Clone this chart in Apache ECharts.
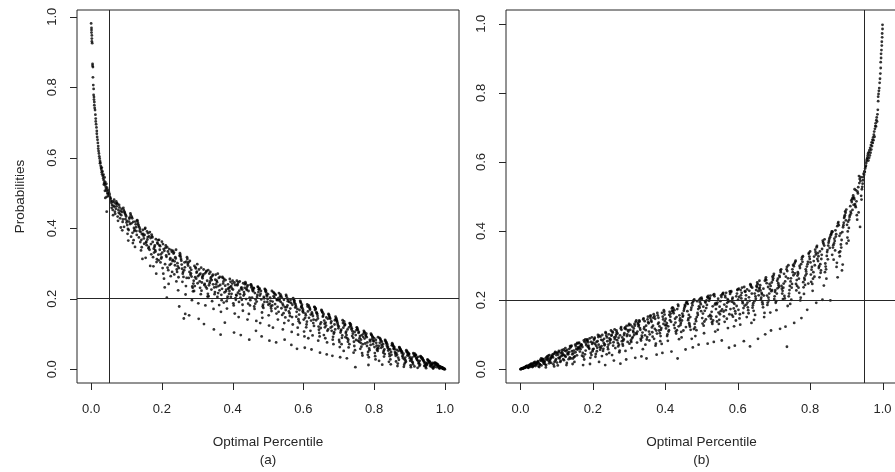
<!DOCTYPE html>
<html>
<head>
<meta charset="utf-8">
<script src="https://cdn.jsdelivr.net/npm/echarts@6/dist/echarts.min.js"></script>
<style>html,body{margin:0;padding:0;background:#fff}#c{width:895px;height:472px}</style>
</head>
<body>
<div id="c"></div>
<script>
const tickValues = [0, 0.2, 0.4, 0.6, 0.8, 1.0];
const refLinesA = [0.05, 0.2];
const refLinesB = [0.95, 0.2];
const xTitle = 'Optimal Percentile';
const yTitle = 'Probabilities';
const panelLabels = ['(a)', '(b)'];

const panelAPoints = [
[.000,.981],[.001,.968],[.001,.962],[.001,.955],[.002,.947],[.002,.938],[.002,.930],[.003,.925],[.004,.866],[.004,.861],[.005,.857],[.005,.828],[.006,.806],[.007,.795],[.007,.778],[.008,.772],[.008,.765],[.009,.758],[.009,.749],[.010,.741],[.011,.735],[.012,.722],[.013,.711],[.013,.703],[.014,.695],[.015,.686],[.016,.676],[.016,.668],[.017,.659],[.018,.651],[.019,.642],[.020,.633],[.020,.626],[.021,.619],[.022,.612],[.023,.604],[.024,.598],[.025,.591],[.025,.584],[.026,.586],[.027,.577],[.028,.571],[.029,.566],[.030,.572],[.030,.559],[.031,.553],[.032,.561],[.033,.548],[.034,.541],[.035,.552],[.036,.536],[.037,.529],[.038,.544],[.039,.524],[.040,.531],[.041,.518],[.042,.511],[.043,.526],[.044,.506],[.045,.515],[.046,.500],[.047,.497],[.048,.509],[.049,.492],[.050,.503],[.036,.524],[.044,.489],[.039,.506],[.044,.447],[.040,.486],
[.063,.463],[.052,.495],[.068,.441],[.056,.478],[.061,.452],[.054,.486],[.069,.470],[.058,.458],[.065,.481],[.051,.499],[.067,.447],[.059,.466],[.064,.474],[.053,.489],[.070,.455],[.057,.472],[.066,.461],[.055,.484],[.062,.437],[.060,.476],
[.077,.452],[.085,.437],[.073,.471],[.089,.418],[.080,.459],[.071,.476],[.082,.428],[.087,.446],[.075,.433],[.084,.402],[.079,.466],[.090,.425],[.072,.462],[.081,.441],[.086,.455],[.076,.421],[.083,.449],[.074,.469],[.088,.394],[.078,.444],
[.101,.421],[.094,.447],[.106,.395],[.099,.433],[.091,.458],[.110,.412],[.103,.384],[.096,.441],[.108,.427],[.093,.404],[.098,.437],[.105,.365],[.100,.416],[.109,.431],[.092,.452],[.104,.398],[.097,.426],[.107,.419],[.095,.444],[.102,.409],
[.128,.392],[.119,.418],[.115,.432],[.124,.347],[.112,.437],[.121,.401],[.130,.423],[.117,.387],[.126,.411],[.113,.376],[.123,.396],[.111,.442],[.120,.366],[.127,.403],[.116,.428],[.129,.381],[.114,.414],[.122,.392],[.118,.358],[.125,.419],
[.133,.411],[.142,.367],[.147,.384],[.138,.398],[.150,.356],[.135,.374],[.140,.389],[.145,.313],[.131,.421],[.143,.346],[.136,.403],[.148,.379],[.139,.361],[.132,.416],[.146,.395],[.141,.337],[.149,.371],[.134,.407],[.144,.383],[.137,.392],
[.163,.347],[.152,.398],[.168,.372],[.156,.362],[.161,.386],[.154,.316],[.169,.355],[.158,.391],[.165,.339],[.151,.381],[.167,.293],[.159,.368],[.164,.377],[.153,.401],[.170,.326],[.157,.352],[.166,.389],[.155,.359],[.162,.343],[.160,.375],
[.181,.338],[.174,.361],[.186,.312],[.179,.347],[.171,.382],[.190,.325],[.183,.369],[.176,.292],[.188,.356],[.173,.374],[.178,.331],[.185,.304],[.180,.351],[.189,.366],[.172,.377],[.184,.271],[.177,.342],[.187,.359],[.175,.318],[.182,.334],
[.197,.326],[.205,.341],[.193,.352],[.209,.298],[.200,.362],[.191,.309],[.202,.287],[.207,.336],[.195,.349],[.204,.271],[.199,.318],[.210,.344],[.192,.367],[.201,.331],[.206,.257],[.196,.303],[.203,.355],[.194,.339],[.208,.232],[.198,.314],
[.213,.319],[.222,.296],[.227,.338],[.218,.281],[.230,.307],[.215,.346],[.220,.327],[.225,.264],[.211,.351],[.223,.311],[.216,.288],[.228,.333],[.219,.242],[.212,.323],[.226,.299],[.221,.341],[.229,.276],[.214,.203],[.224,.315],[.217,.334],
[.248,.287],[.239,.314],[.235,.269],[.244,.301],[.232,.336],[.241,.249],[.250,.322],[.237,.295],[.246,.224],[.233,.328],[.243,.276],[.231,.310],[.240,.339],[.247,.261],[.236,.306],[.249,.178],[.234,.331],[.242,.283],[.238,.318],[.245,.292],
[.263,.281],[.252,.324],[.268,.236],[.256,.297],[.261,.262],[.254,.313],[.269,.305],[.258,.248],[.265,.289],[.251,.329],[.267,.212],[.259,.271],[.264,.303],[.253,.319],[.270,.259],[.257,.285],[.266,.157],[.255,.308],[.262,.144],[.260,.276],
[.281,.268],[.274,.294],[.286,.235],[.279,.307],[.271,.318],[.290,.251],[.283,.282],[.276,.259],[.288,.221],[.273,.299],[.278,.276],[.285,.196],[.280,.288],[.289,.243],[.272,.313],[.284,.263],[.277,.153],[.287,.231],[.275,.303],[.282,.272],
[.297,.257],[.305,.283],[.293,.236],[.309,.271],[.300,.298],[.291,.222],[.302,.264],[.307,.249],[.295,.289],[.304,.143],[.299,.277],[.310,.213],[.292,.293],[.301,.244],[.306,.268],[.296,.286],[.303,.187],[.294,.261],[.308,.231],[.298,.274],
[.313,.246],[.322,.272],[.327,.229],[.318,.283],[.330,.214],[.315,.258],[.320,.239],[.325,.276],[.311,.288],[.323,.181],[.316,.265],[.328,.251],[.319,.128],[.312,.223],[.326,.279],[.321,.242],[.329,.206],[.314,.262],[.324,.234],[.317,.269],
[.348,.232],[.339,.261],[.335,.244],[.344,.268],[.332,.207],[.341,.253],[.350,.219],[.337,.276],[.346,.171],[.333,.238],[.343,.265],[.331,.281],[.340,.226],[.347,.113],[.336,.249],[.349,.213],[.334,.271],[.342,.193],[.338,.257],[.345,.241],
[.363,.224],[.352,.268],[.368,.211],[.356,.247],[.361,.259],[.354,.233],[.369,.196],[.358,.271],[.365,.239],[.351,.254],[.367,.163],[.359,.216],[.364,.262],[.353,.241],[.370,.228],[.357,.205],[.366,.098],[.355,.251],[.362,.182],[.360,.236],
[.381,.221],[.374,.249],[.386,.206],[.379,.237],[.371,.262],[.390,.214],[.383,.193],[.376,.256],[.388,.228],[.373,.243],[.378,.132],[.385,.201],[.380,.253],[.389,.231],[.372,.259],[.384,.172],[.377,.218],[.387,.241],[.375,.189],[.382,.226],
[.397,.214],[.405,.246],[.393,.233],[.409,.197],[.400,.251],[.391,.222],[.402,.187],[.407,.239],[.395,.205],[.404,.104],[.399,.243],[.410,.211],[.392,.256],[.401,.226],[.406,.158],[.396,.236],[.403,.181],[.394,.248],[.408,.202],[.398,.229],
[.413,.238],[.422,.203],[.427,.226],[.418,.191],[.430,.244],[.415,.217],[.420,.249],[.425,.232],[.411,.209],[.423,.097],[.416,.246],[.428,.183],[.419,.223],[.412,.251],[.426,.197],[.421,.213],[.429,.166],[.414,.241],[.424,.229],[.417,.148],
[.448,.203],[.439,.228],[.435,.241],[.444,.186],[.432,.219],[.441,.234],[.450,.196],[.437,.243],[.446,.157],[.433,.213],[.443,.238],[.431,.209],[.440,.225],[.447,.084],[.436,.247],[.449,.181],[.434,.231],[.442,.141],[.438,.199],[.445,.222],
[.463,.216],[.452,.241],[.468,.192],[.456,.227],[.461,.178],[.454,.236],[.469,.205],[.458,.221],[.465,.198],[.451,.239],[.467,.137],[.459,.231],[.464,.186],[.453,.232],[.470,.211],[.457,.224],[.466,.109],[.455,.203],[.462,.171],[.460,.229],
[.481,.198],[.474,.226],[.486,.183],[.479,.214],[.471,.234],[.490,.191],[.483,.161],[.476,.229],[.488,.205],[.473,.219],[.478,.131],[.485,.178],[.480,.222],[.489,.201],[.472,.233],[.484,.146],[.477,.209],[.487,.174],[.475,.227],[.482,.093],
[.497,.207],[.505,.186],[.493,.221],[.509,.172],[.500,.213],[.491,.228],[.502,.153],[.507,.194],[.495,.218],[.504,.081],[.499,.199],[.510,.165],[.492,.226],[.501,.183],[.506,.203],[.496,.211],[.503,.124],[.494,.224],[.508,.178],[.498,.191],
[.513,.192],[.522,.211],[.527,.177],[.518,.203],[.530,.163],[.515,.219],[.520,.185],[.525,.198],[.511,.222],[.523,.076],[.516,.207],[.528,.141],[.519,.214],[.512,.181],[.526,.196],[.521,.172],[.529,.201],[.514,.118],[.524,.158],[.517,.216],
[.548,.176],[.539,.203],[.535,.212],[.544,.159],[.532,.195],[.541,.186],[.550,.168],[.537,.208],[.546,.131],[.533,.199],[.543,.181],[.531,.216],[.540,.154],[.547,.084],[.536,.191],[.549,.147],[.534,.206],[.542,.113],[.538,.173],[.545,.197],
[.563,.172],[.552,.207],[.568,.148],[.556,.193],[.561,.159],[.554,.201],[.569,.183],[.558,.138],[.565,.188],[.551,.211],[.567,.106],[.559,.164],[.564,.197],[.553,.176],[.570,.127],[.557,.199],[.566,.069],[.555,.181],[.562,.151],[.560,.191],
[.581,.163],[.574,.191],[.586,.142],[.579,.178],[.571,.202],[.590,.131],[.583,.171],[.576,.187],[.588,.155],[.573,.197],[.578,.183],[.585,.098],[.580,.149],[.589,.168],[.572,.199],[.584,.118],[.577,.175],[.587,.136],[.575,.194],[.582,.058],
[.597,.173],[.605,.146],[.593,.188],[.609,.127],[.600,.161],[.591,.194],[.602,.107],[.607,.153],[.595,.179],[.604,.061],[.599,.168],[.610,.135],[.592,.191],[.601,.141],[.606,.158],[.596,.183],[.603,.093],[.594,.176],[.608,.119],[.598,.164],
[.613,.164],[.622,.138],[.627,.151],[.618,.172],[.630,.123],[.615,.181],[.620,.109],[.625,.157],[.611,.184],[.623,.056],[.616,.146],[.628,.131],[.619,.169],[.612,.178],[.626,.096],[.621,.155],[.629,.141],[.614,.088],[.624,.161],[.617,.176],
[.648,.128],[.639,.157],[.635,.171],[.644,.112],[.632,.176],[.641,.144],[.650,.133],[.637,.162],[.646,.093],[.633,.168],[.643,.121],[.631,.177],[.640,.151],[.647,.047],[.636,.139],[.649,.117],[.634,.173],[.642,.081],[.638,.159],[.645,.103],
[.663,.132],[.652,.166],[.668,.109],[.656,.152],[.661,.119],[.654,.161],[.669,.143],[.658,.097],[.665,.147],[.651,.168],[.667,.076],[.659,.138],[.664,.124],[.653,.163],[.670,.113],[.657,.157],[.666,.042],[.655,.149],[.662,.088],[.660,.129],
[.681,.121],[.674,.148],[.686,.101],[.679,.136],[.671,.157],[.690,.113],[.683,.084],[.676,.143],[.688,.127],[.673,.152],[.678,.131],[.685,.071],[.680,.109],[.689,.139],[.672,.155],[.684,.092],[.677,.118],[.687,.105],[.675,.146],[.682,.038],
[.697,.128],[.705,.104],[.693,.145],[.709,.089],[.700,.121],[.691,.149],[.702,.077],[.707,.112],[.695,.137],[.704,.034],[.699,.116],[.710,.096],[.692,.142],[.701,.083],[.706,.109],[.696,.133],[.703,.063],[.694,.139],[.708,.071],[.698,.124],
[.713,.118],[.722,.097],[.727,.084],[.718,.126],[.730,.071],[.715,.136],[.720,.103],[.725,.113],[.711,.139],[.723,.031],[.716,.124],[.728,.062],[.719,.091],[.712,.131],[.726,.078],[.721,.107],[.729,.119],[.714,.052],[.724,.088],[.717,.129],
[.748,.097],[.739,.108],[.735,.121],[.744,.066],[.732,.129],[.741,.089],[.750,.111],[.737,.116],[.746,.054],[.733,.124],[.743,.078],[.731,.131],[.740,.101],[.747,.006],[.736,.113],[.749,.083],[.734,.127],[.742,.047],[.738,.094],[.745,.106],
[.763,.084],[.752,.117],[.768,.071],[.756,.103],[.761,.058],[.754,.111],[.769,.092],[.758,.078],[.765,.097],[.751,.119],[.767,.039],[.759,.088],[.764,.064],[.753,.114],[.770,.101],[.757,.106],[.766,.046],[.755,.081],[.762,.075],[.760,.094],
[.781,.076],[.774,.104],[.786,.059],[.779,.091],[.771,.109],[.790,.069],[.783,.049],[.776,.097],[.788,.083],[.773,.087],[.778,.101],[.785,.034],[.780,.066],[.789,.079],[.772,.106],[.784,.012],[.777,.094],[.787,.054],[.775,.073],[.782,.041],
[.797,.071],[.805,.083],[.793,.097],[.809,.059],[.800,.088],[.791,.101],[.802,.046],[.807,.067],[.795,.093],[.804,.028],[.799,.079],[.810,.052],[.792,.098],[.801,.063],[.806,.075],[.796,.091],[.803,.037],[.794,.085],[.808,.055],[.798,.081],
[.813,.066],[.822,.078],[.827,.052],[.818,.084],[.830,.043],[.815,.089],[.820,.061],[.825,.071],[.811,.091],[.823,.013],[.816,.075],[.828,.036],[.819,.081],[.812,.059],[.826,.047],[.821,.069],[.829,.056],[.814,.024],[.824,.064],[.817,.087],
[.848,.049],[.839,.064],[.835,.076],[.844,.037],[.832,.081],[.841,.058],[.850,.068],[.837,.071],[.846,.028],[.833,.078],[.843,.044],[.831,.083],[.840,.053],[.847,.014],[.836,.067],[.849,.041],[.834,.074],[.842,.021],[.838,.061],[.845,.056],
[.863,.046],[.852,.071],[.868,.033],[.856,.061],[.861,.038],[.854,.066],[.869,.052],[.858,.057],[.865,.041],[.851,.074],[.867,.016],[.859,.049],[.864,.055],[.853,.068],[.870,.027],[.857,.063],[.866,.009],[.855,.058],[.862,.022],[.860,.044],
[.881,.039],[.874,.057],[.886,.028],[.879,.049],[.871,.063],[.890,.021],[.883,.044],[.876,.053],[.888,.033],[.873,.059],[.878,.046],[.885,.013],[.880,.036],[.889,.025],[.872,.061],[.884,.007],[.877,.051],[.887,.018],[.875,.055],[.882,.031],
[.897,.041],[.905,.029],[.893,.051],[.909,.019],[.900,.036],[.891,.054],[.902,.024],[.907,.033],[.895,.046],[.904,.006],[.899,.043],[.910,.014],[.892,.049],[.901,.031],[.906,.026],[.896,.047],[.903,.011],[.894,.039],[.908,.021],[.898,.044],
[.913,.037],[.922,.026],[.927,.018],[.918,.041],[.930,.013],[.915,.044],[.920,.031],[.925,.022],[.911,.046],[.923,.004],[.916,.038],[.928,.009],[.919,.033],[.912,.043],[.926,.016],[.921,.028],[.929,.024],[.914,.008],[.924,.035],[.917,.040],
[.948,.014],[.939,.026],[.935,.033],[.944,.011],[.932,.036],[.941,.021],[.950,.018],[.937,.031],[.946,.007],[.933,.034],[.943,.016],[.931,.037],[.940,.024],[.947,.003],[.936,.029],[.949,.012],[.934,.032],[.942,.009],[.938,.027],[.945,.019],
[.963,.013],[.952,.026],[.968,.008],[.956,.021],[.961,.011],[.954,.024],[.969,.016],[.958,.009],[.965,.018],[.951,.028],[.967,.002],[.959,.019],[.964,.015],[.953,.025],[.970,.006],[.957,.022],[.966,.004],[.955,.017],[.962,.007],[.960,.014],
[.981,.012],[.974,.018],[.986,.008],[.979,.014],[.971,.019],[.990,.006],[.983,.004],[.976,.016],[.988,.007],[.973,.011],[.978,.015],[.985,.002],[.980,.010],[.989,.005],[.972,.017],[.984,.009],[.977,.006],[.987,.004],[.975,.013],[.982,.008],[.991,.005],[.994,.003],[.992,.004],[.996,.002],[.993,.002],[.997,.001],[.995,.003],[.998,.001],[.999,.001],[1.0,.000],[.993,.005],[.996,.001]
];

const panelBPoints = [
[.012,.005],[.001,.000],[.017,.008],[.005,.002],[.010,.004],[.003,.001],[.018,.006],[.007,.003],[.014,.007],[.000,.000],[.016,.009],[.008,.002],[.013,.004],[.002,.001],[.019,.010],[.006,.003],[.015,.006],[.004,.002],[.011,.005],[.009,.004],
[.027,.009],[.035,.016],[.023,.007],[.039,.013],[.030,.014],[.021,.005],[.032,.011],[.037,.019],[.025,.012],[.034,.008],[.029,.015],[.040,.021],[.022,.004],[.031,.016],[.036,.010],[.026,.013],[.033,.006],[.024,.011],[.038,.018],[.028,.007],
[.051,.017],[.044,.012],[.056,.025],[.049,.021],[.041,.009],[.060,.029],[.053,.014],[.046,.019],[.058,.011],[.043,.016],[.048,.023],[.055,.027],[.050,.008],[.059,.024],[.042,.018],[.054,.013],[.047,.020],[.057,.031],[.045,.015],[.052,.006],
[.078,.024],[.069,.031],[.065,.016],[.074,.037],[.062,.028],[.071,.012],[.080,.041],[.067,.021],[.076,.033],[.063,.019],[.073,.027],[.061,.030],[.070,.005],[.077,.039],[.066,.025],[.079,.017],[.064,.022],[.072,.035],[.068,.014],[.075,.029],
[.083,.031],[.092,.044],[.097,.025],[.088,.039],[.100,.048],[.085,.018],[.090,.034],[.095,.047],[.081,.022],[.093,.008],[.086,.037],[.098,.029],[.089,.043],[.082,.027],[.096,.050],[.091,.014],[.099,.041],[.084,.033],[.094,.021],[.087,.036],
[.113,.038],[.102,.047],[.118,.029],[.106,.053],[.111,.024],[.104,.042],[.119,.057],[.108,.031],[.115,.049],[.101,.019],[.117,.044],[.109,.035],[.114,.055],[.103,.011],[.120,.026],[.107,.050],[.116,.040],[.105,.033],[.112,.046],[.110,.021],
[.131,.047],[.124,.061],[.136,.034],[.129,.056],[.121,.041],[.140,.066],[.133,.029],[.126,.052],[.138,.063],[.123,.038],[.128,.018],[.135,.059],[.130,.044],[.139,.031],[.122,.054],[.134,.049],[.127,.012],[.137,.067],[.125,.036],[.132,.043],
[.147,.054],[.155,.073],[.143,.043],[.159,.061],[.150,.037],[.141,.068],[.152,.049],[.157,.076],[.145,.031],[.154,.058],[.149,.021],[.160,.064],[.142,.052],[.151,.071],[.156,.040],[.146,.046],[.153,.066],[.144,.015],[.158,.057],[.148,.035],
[.163,.061],[.172,.047],[.177,.079],[.168,.072],[.180,.054],[.165,.066],[.170,.039],[.175,.083],[.161,.075],[.173,.012],[.166,.058],[.178,.043],[.169,.069],[.162,.077],[.176,.028],[.171,.064],[.179,.086],[.164,.051],[.174,.036],[.167,.070],
[.198,.073],[.189,.062],[.185,.084],[.194,.047],[.182,.069],[.191,.089],[.200,.057],[.187,.078],[.196,.041],[.183,.081],[.193,.033],[.181,.074],[.190,.059],[.197,.092],[.186,.065],[.199,.052],[.184,.086],[.192,.015],[.188,.068],[.195,.079],
[.213,.081],[.202,.059],[.218,.097],[.206,.073],[.211,.052],[.204,.088],[.219,.064],[.208,.044],[.215,.093],[.201,.077],[.217,.021],[.209,.068],[.214,.099],[.203,.085],[.220,.056],[.207,.036],[.216,.071],[.205,.091],[.212,.062],[.210,.079],
[.231,.088],[.224,.067],[.236,.104],[.229,.059],[.221,.094],[.240,.081],[.233,.072],[.226,.099],[.238,.043],[.223,.085],[.228,.053],[.235,.107],[.230,.076],[.239,.092],[.222,.061],[.234,.012],[.227,.083],[.237,.097],[.225,.038],[.232,.069],
[.247,.083],[.255,.106],[.243,.071],[.259,.092],[.250,.112],[.241,.064],[.252,.099],[.257,.078],[.245,.047],[.254,.109],[.249,.086],[.260,.115],[.242,.058],[.251,.097],[.256,.068],[.246,.089],[.253,.041],[.244,.101],[.258,.025],[.248,.076],
[.263,.094],[.272,.071],[.277,.118],[.268,.103],[.280,.081],[.265,.112],[.270,.066],[.275,.098],[.261,.087],[.273,.049],[.266,.107],[.278,.122],[.269,.076],[.262,.061],[.276,.016],[.271,.091],[.279,.114],[.264,.100],[.274,.054],[.267,.084],
[.298,.109],[.289,.121],[.285,.087],[.294,.096],[.282,.073],[.291,.116],[.300,.131],[.287,.104],[.296,.079],[.283,.068],[.293,.125],[.281,.092],[.290,.053],[.297,.113],[.286,.099],[.299,.127],[.284,.083],[.292,.028],[.288,.118],[.295,.101],
[.313,.118],[.302,.097],[.318,.137],[.306,.079],[.311,.111],[.304,.128],[.319,.104],[.308,.089],[.315,.131],[.301,.074],[.317,.033],[.309,.123],[.314,.099],[.303,.114],[.320,.141],[.307,.061],[.316,.126],[.305,.083],[.312,.107],[.310,.093],
[.331,.114],[.324,.131],[.336,.092],[.329,.138],[.321,.102],[.340,.147],[.333,.083],[.326,.124],[.338,.058],[.323,.109],[.328,.141],[.335,.097],[.330,.119],[.339,.144],[.322,.077],[.334,.037],[.327,.128],[.337,.106],[.325,.135],[.332,.088],
[.347,.126],[.355,.109],[.343,.139],[.359,.148],[.350,.093],[.341,.117],[.352,.152],[.357,.101],[.345,.071],[.354,.133],[.349,.086],[.360,.155],[.342,.122],[.351,.144],[.356,.083],[.346,.113],[.353,.136],[.344,.098],[.358,.154],[.348,.031],
[.363,.121],[.372,.146],[.377,.103],[.368,.159],[.380,.131],[.365,.094],[.370,.153],[.375,.112],[.361,.141],[.373,.068],[.366,.126],[.378,.163],[.369,.088],[.362,.137],[.376,.042],[.371,.117],[.379,.156],[.364,.107],[.374,.074],[.367,.149],
[.398,.158],[.389,.119],[.385,.104],[.394,.144],[.382,.135],[.391,.163],[.400,.127],[.387,.096],[.396,.171],[.383,.112],[.393,.152],[.381,.149],[.390,.073],[.397,.166],[.386,.081],[.399,.139],[.384,.124],[.392,.047],[.388,.114],[.395,.131],
[.413,.142],[.402,.118],[.418,.176],[.406,.101],[.411,.157],[.404,.133],[.419,.169],[.408,.124],[.415,.161],[.401,.146],[.417,.051],[.409,.109],[.414,.152],[.403,.127],[.420,.179],[.407,.082],[.416,.137],[.405,.096],[.412,.166],[.410,.113],
[.431,.151],[.424,.128],[.436,.183],[.429,.109],[.421,.167],[.440,.141],[.433,.174],[.426,.119],[.438,.087],[.423,.162],[.428,.135],[.435,.187],[.430,.103],[.439,.156],[.422,.176],[.434,.031],[.427,.146],[.437,.124],[.425,.171],[.432,.113],
[.447,.161],[.455,.183],[.443,.134],[.459,.191],[.450,.112],[.441,.147],[.452,.174],[.457,.122],[.445,.092],[.454,.186],[.449,.155],[.460,.196],[.442,.128],[.451,.169],[.456,.057],[.446,.141],[.453,.179],[.444,.108],[.458,.193],[.448,.152],
[.463,.142],[.472,.178],[.477,.196],[.468,.123],[.480,.202],[.465,.157],[.470,.114],[.475,.185],[.461,.168],[.473,.088],[.466,.133],[.478,.199],[.469,.151],[.462,.189],[.476,.063],[.471,.172],[.479,.116],[.464,.147],[.474,.191],[.467,.128],
[.498,.188],[.489,.163],[.485,.139],[.494,.201],[.482,.121],[.491,.174],[.500,.207],[.487,.151],[.496,.194],[.483,.096],[.493,.182],[.481,.131],[.490,.157],[.497,.205],[.486,.113],[.499,.168],[.484,.145],[.492,.071],[.488,.197],[.495,.178],
[.513,.177],[.502,.148],[.518,.207],[.506,.126],[.511,.193],[.504,.161],[.519,.212],[.508,.138],[.515,.186],[.501,.203],[.517,.074],[.509,.169],[.514,.199],[.503,.132],[.520,.153],[.507,.104],[.516,.209],[.505,.181],[.512,.144],[.510,.196],
[.531,.182],[.524,.157],[.536,.211],[.529,.136],[.521,.198],[.540,.174],[.533,.215],[.526,.146],[.538,.109],[.523,.206],[.528,.166],[.535,.217],[.530,.131],[.539,.191],[.522,.203],[.534,.079],[.527,.153],[.537,.187],[.525,.213],[.532,.141],
[.547,.164],[.555,.209],[.543,.138],[.559,.219],[.550,.181],[.541,.152],[.552,.197],[.557,.173],[.545,.114],[.554,.214],[.549,.143],[.560,.221],[.542,.188],[.551,.159],[.556,.083],[.546,.204],[.553,.168],[.544,.193],[.558,.217],[.548,.131],
[.563,.187],[.572,.203],[.577,.159],[.568,.221],[.580,.174],[.565,.213],[.570,.146],[.575,.196],[.561,.167],[.573,.119],[.566,.208],[.578,.225],[.569,.181],[.562,.153],[.576,.062],[.571,.192],[.579,.218],[.564,.137],[.574,.199],[.567,.171],
[.598,.219],[.589,.176],[.585,.203],[.594,.161],[.582,.226],[.591,.189],[.600,.231],[.587,.152],[.596,.211],[.583,.196],[.593,.168],[.581,.223],[.590,.124],[.597,.183],[.586,.207],[.599,.229],[.584,.157],[.592,.068],[.588,.193],[.595,.141],
[.613,.196],[.602,.172],[.618,.238],[.606,.159],[.611,.221],[.604,.209],[.619,.184],[.608,.229],[.615,.163],[.601,.201],[.617,.081],[.609,.214],[.614,.191],[.603,.233],[.620,.226],[.607,.129],[.616,.177],[.605,.147],[.612,.236],[.610,.205],
[.631,.208],[.624,.187],[.636,.243],[.629,.171],[.621,.224],[.640,.236],[.633,.198],[.626,.231],[.638,.134],[.623,.214],[.628,.179],[.635,.246],[.630,.162],[.639,.219],[.622,.203],[.634,.066],[.627,.193],[.637,.239],[.625,.151],[.632,.227],
[.647,.219],[.655,.246],[.643,.191],[.659,.233],[.650,.204],[.641,.178],[.652,.241],[.657,.226],[.645,.143],[.654,.251],[.649,.211],[.660,.256],[.642,.185],[.651,.229],[.656,.088],[.646,.197],[.653,.238],[.644,.169],[.658,.214],[.648,.157],
[.663,.228],[.672,.213],[.677,.261],[.668,.194],[.680,.249],[.665,.207],[.670,.179],[.675,.256],[.661,.236],[.673,.151],[.666,.221],[.678,.266],[.669,.188],[.662,.243],[.676,.101],[.671,.233],[.679,.258],[.664,.201],[.674,.163],[.667,.217],
[.698,.263],[.689,.232],[.685,.207],[.694,.251],[.682,.186],[.691,.241],[.700,.276],[.687,.219],[.696,.268],[.683,.193],[.693,.226],[.681,.213],[.690,.164],[.697,.258],[.686,.199],[.699,.271],[.684,.238],[.692,.112],[.688,.247],[.695,.229],
[.713,.243],[.702,.211],[.718,.286],[.706,.197],[.711,.262],[.704,.229],[.719,.281],[.708,.219],[.715,.271],[.701,.203],[.717,.117],[.709,.256],[.714,.238],[.703,.224],[.720,.289],[.707,.171],[.716,.267],[.705,.192],[.712,.249],[.710,.234],
[.731,.254],[.724,.227],[.736,.296],[.729,.212],[.721,.241],[.740,.301],[.733,.268],[.726,.236],[.738,.183],[.723,.219],[.728,.276],[.735,.289],[.730,.205],[.739,.263],[.722,.233],[.736,.065],[.727,.248],[.737,.284],[.725,.203],[.732,.123],
[.747,.263],[.755,.298],[.743,.229],[.759,.311],[.750,.247],[.741,.211],[.752,.281],[.757,.306],[.745,.189],[.754,.272],[.749,.236],[.760,.314],[.742,.219],[.751,.289],[.756,.134],[.746,.254],[.753,.302],[.744,.241],[.758,.277],[.748,.201],
[.763,.258],[.772,.293],[.777,.318],[.768,.236],[.780,.327],[.765,.271],[.770,.221],[.775,.304],[.761,.247],[.773,.199],[.766,.281],[.778,.324],[.769,.262],[.762,.228],[.776,.148],[.771,.299],[.779,.311],[.764,.241],[.774,.207],[.767,.276],
[.798,.326],[.789,.283],[.785,.259],[.794,.311],[.782,.237],[.791,.297],[.800,.341],[.787,.271],[.796,.334],[.783,.218],[.793,.304],[.781,.252],[.790,.276],[.797,.337],[.786,.244],[.799,.319],[.784,.264],[.792,.172],[.788,.289],[.795,.248],
[.813,.301],[.802,.274],[.818,.353],[.806,.247],[.811,.326],[.804,.288],[.819,.357],[.808,.262],[.815,.339],[.801,.309],[.817,.192],[.809,.281],[.814,.346],[.803,.253],[.820,.319],[.807,.227],[.816,.332],[.805,.296],[.812,.268],[.810,.313],
[.831,.319],[.824,.293],[.836,.367],[.829,.279],[.821,.336],[.840,.376],[.833,.348],[.826,.266],[.838,.242],[.823,.327],[.828,.304],[.835,.372],[.830,.286],[.839,.358],[.822,.313],[.834,.201],[.827,.341],[.837,.363],[.825,.298],[.832,.331],
[.847,.339],[.855,.382],[.843,.297],[.859,.394],[.850,.358],[.841,.281],[.852,.371],[.857,.388],[.845,.262],[.854,.351],[.849,.318],[.860,.399],[.842,.306],[.851,.366],[.856,.199],[.846,.328],[.853,.377],[.844,.289],[.858,.391],[.848,.345],
[.863,.352],[.872,.391],[.877,.422],[.868,.371],[.880,.338],[.865,.317],[.870,.402],[.875,.414],[.861,.331],[.873,.296],[.866,.364],[.878,.426],[.869,.344],[.862,.398],[.876,.266],[.871,.384],[.879,.417],[.864,.359],[.874,.308],[.867,.378],
[.898,.453],[.889,.397],[.885,.361],[.894,.438],[.882,.327],[.891,.411],[.900,.462],[.887,.374],[.896,.446],[.883,.341],[.893,.424],[.881,.386],[.890,.303],[.897,.457],[.886,.352],[.899,.431],[.884,.393],[.888,.286],[.892,.417],[.895,.442],
[.913,.451],[.902,.418],[.918,.497],[.906,.372],[.911,.472],[.904,.399],[.919,.503],[.908,.433],[.915,.484],[.901,.364],[.917,.461],[.909,.441],[.914,.489],[.903,.381],[.920,.476],[.907,.409],[.916,.493],[.905,.427],[.912,.456],[.910,.446],
[.931,.514],[.924,.478],[.936,.539],[.929,.446],[.921,.497],[.940,.556],[.933,.527],[.926,.469],[.938,.412],[.923,.521],[.928,.486],[.935,.559],[.930,.433],[.939,.545],[.922,.492],[.934,.454],[.927,.518],[.937,.551],[.925,.473],[.932,.509],
[.947,.556],[.955,.597],[.943,.521],[.959,.618],[.950,.573],[.941,.502],[.952,.581],[.957,.608],[.945,.537],[.954,.589],[.949,.563],[.960,.624],[.942,.491],[.951,.571],[.956,.603],[.946,.547],[.953,.586],[.944,.528],[.958,.612],[.948,.566],
[.961,.604],[.962,.628],[.963,.612],[.964,.634],[.965,.619],[.966,.641],[.967,.627],[.968,.649],[.969,.636],[.970,.657],[.971,.646],[.972,.664],[.973,.655],[.974,.671],[.975,.663],[.976,.679],[.977,.688],[.978,.673],[.979,.696],[.980,.704],[.981,.712],[.982,.703],[.983,.721],[.984,.729],[.985,.717],[.986,.738],[.987,.751],[.988,.776],[.988,.789],[.989,.797],[.990,.806],[.991,.814],[.992,.829],[.993,.841],[.994,.856],[.995,.872],[.995,.889],[.996,.901],[.996,.913],[.997,.924],[.998,.937],[.998,.948],[.999,.961],[.999,.972],[1.0,.985],[1.0,.997]
];

const chart = echarts.init(document.getElementById('c'), null, {renderer: 'canvas'});
const ink = '#262626';
const fontFamily = '"Liberation Sans", Arial, Helvetica, sans-serif';
const xRange = [-0.04, 1.04];
const yRangeA = [-0.039, 1.019];
const yRangeB = [-0.04, 1.04];
const tickLen = 7;

function xAxisFor(gridIndex, label) {
  return {
    type: 'value', gridIndex: gridIndex, min: xRange[0], max: xRange[1],
    name: xTitle + '\n' + label, nameLocation: 'middle', nameGap: 51,
    nameTextStyle: {color: ink, fontSize: 13.5, fontFamily: fontFamily, lineHeight: 17.5},
    axisLine: {show: false, onZero: false},
    axisTick: {show: false},
    axisLabel: {show: true, customValues: tickValues, margin: 20, color: ink, fontSize: 13, fontFamily: fontFamily,
      formatter: v => v.toFixed(1)},
    splitLine: {show: false}
  };
}
function yAxisFor(gridIndex, range, withName) {
  return {
    type: 'value', gridIndex: gridIndex, min: range[0], max: range[1],
    name: withName ? yTitle : '', nameLocation: 'middle', nameGap: 50,
    nameTextStyle: {color: ink, fontSize: 13.5, fontFamily: fontFamily},
    axisLine: {show: false, onZero: false},
    axisTick: {show: false},
    axisLabel: {show: true, customValues: tickValues, margin: 18, rotate: 90, color: ink, fontSize: 13, fontFamily: fontFamily,
      formatter: v => v.toFixed(1)},
    splitLine: {show: false}
  };
}
function refMark(lines) {
  return {
    silent: true, symbol: ['none', 'none'], animation: false,
    label: {show: false},
    lineStyle: {color: ink, width: 1, type: 'solid'},
    emphasis: {disabled: true},
    data: [{xAxis: lines[0]}, {yAxis: lines[1]}]
  };
}
function tickSeries(axisIndex, isX) {
  return {
    type: 'custom', xAxisIndex: axisIndex, yAxisIndex: axisIndex, clip: false, silent: true, z: 10,
    data: tickValues.map(v => [v, v]),
    renderItem: function (params, api) {
      const rect = params.coordSys;
      const p = api.coord([api.value(0), api.value(1)]);
      if (isX) {
        const x = Math.round(p[0]) + 0.5, y = rect.y + rect.height;
        return {type: 'line', shape: {x1: x, y1: y, x2: x, y2: y + tickLen}, style: {stroke: ink, lineWidth: 1}};
      }
      const x = rect.x, y = Math.round(p[1]) + 0.5;
      return {type: 'line', shape: {x1: x, y1: y, x2: x - tickLen, y2: y}, style: {stroke: ink, lineWidth: 1}};
    }
  };
}

chart.setOption({
  animation: false,
  backgroundColor: '#fff',
  grid: [
    {left: 77, top: 10, width: 382, height: 373, containLabel: false, outerBoundsMode: 'none',
      show: true, borderColor: ink, borderWidth: 1, backgroundColor: 'transparent'},
    {left: 506, top: 10, width: 391, height: 373, containLabel: false, outerBoundsMode: 'none',
      show: true, borderColor: ink, borderWidth: 1, backgroundColor: 'transparent'}
  ],
  xAxis: [xAxisFor(0, panelLabels[0]), xAxisFor(1, panelLabels[1])],
  yAxis: [yAxisFor(0, yRangeA, true), yAxisFor(1, yRangeB, false)],
  series: [
    {type: 'scatter', xAxisIndex: 0, yAxisIndex: 0, data: panelAPoints, symbol: 'circle', symbolSize: 2.8,
      itemStyle: {color: '#000'}, silent: true, markLine: refMark(refLinesA)},
    {type: 'scatter', xAxisIndex: 1, yAxisIndex: 1, data: panelBPoints, symbol: 'circle', symbolSize: 2.8,
      itemStyle: {color: '#000'}, silent: true, markLine: refMark(refLinesB)},
    tickSeries(0, true), tickSeries(0, false),
    tickSeries(1, true), tickSeries(1, false)
  ]
});
</script>
</body>
</html>
